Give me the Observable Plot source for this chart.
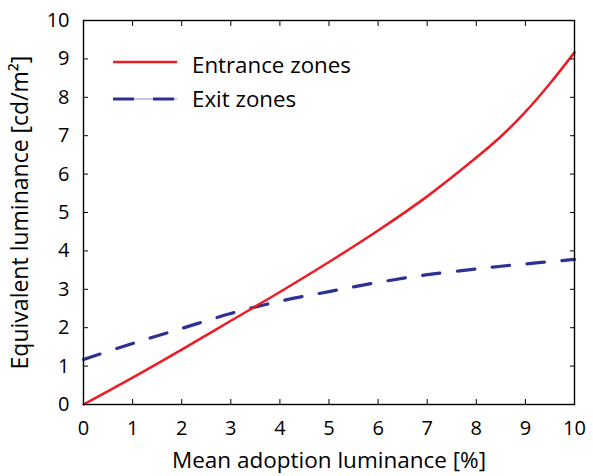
<!DOCTYPE html>
<html><head><meta charset="utf-8">
<script src="https://cdn.jsdelivr.net/npm/d3@7"></script>
<script src="https://cdn.jsdelivr.net/npm/@observablehq/plot@0.6"></script>
<style>
body{margin:0;background:#fff;}
#chart{position:relative;width:593px;height:476px;font-family:"Open Sans",sans-serif;color:#000;}
.leg-text{position:absolute;font-size:22.3px;line-height:1;white-space:nowrap;}
.leg-swatch{position:absolute;display:block;}
</style></head><body><div id="chart"></div>
<script>
const adoption = [0, 1, 2, 3, 4, 5, 6, 7, 8, 8.5, 9, 9.5, 10];
const entrance = [0, 0.70, 1.43, 2.18, 2.93, 3.71, 4.53, 5.42, 6.43, 6.98, 7.62, 8.36, 9.17];
const exitZ = [1.17, 1.59, 1.98, 2.37, 2.69, 2.94, 3.18, 3.38, 3.53, 3.60, 3.66, 3.72, 3.78];
const xTicks = [0, 1, 2, 3, 4, 5, 6, 7, 8, 9, 10];
const yTicks = [0, 1, 2, 3, 4, 5, 6, 7, 8, 9, 10];
const seriesNames = ["Entrance zones", "Exit zones"];
const seriesColors = ["#ed1c24", "#2e3192"];

const entranceData = adoption.map((x, i) => ({x, y: entrance[i]}));
const exitData = adoption.map((x, i) => ({x, y: exitZ[i]}));

const plot = Plot.plot({
  width: 593, height: 476,
  marginLeft: 83, marginRight: 19, marginTop: 20, marginBottom: 72,
  style: {fontFamily: '"Open Sans", sans-serif', fontSize: "20px", color: "#000", background: "#fff", overflow: "visible"},
  x: {domain: [0, 10]},
  y: {domain: [0, 10]},
  marks: [
    Plot.line(exitData, {x: "x", y: "y", stroke: seriesColors[1], strokeWidth: 3.2, strokeDasharray: "17.5,17.5", curve: "catmull-rom"}),
    Plot.line(entranceData, {x: "x", y: "y", stroke: seriesColors[0], strokeWidth: 2.5, curve: "catmull-rom"}),
    Plot.axisX(xTicks, {anchor: "bottom", tickSize: -5, tickPadding: 21, fontSize: 20, label: null}),
    Plot.axisX({anchor: "bottom", tickSize: 0, fill: "#000", fontSize: 22.5, ticks: [],
      label: "Mean adoption luminance [%]", labelAnchor: "center", labelOffset: 63, labelArrow: "none"}),
    Plot.axisY(yTicks, {anchor: "left", tickSize: -5, tickPadding: 19, fontSize: 20, label: null}),
    Plot.axisY({anchor: "left", tickSize: 0, fontSize: 23, ticks: [],
      label: "Equivalent luminance [cd/m²]", labelAnchor: "center", labelOffset: 72, labelArrow: "none"}),
    Plot.axisX(xTicks, {anchor: "top", tickSize: -5, fill: "none", label: null}),
    Plot.axisY(yTicks, {anchor: "right", tickSize: -5, fill: "none", label: null}),
    Plot.frame({stroke: "#000", strokeWidth: 1.4})
  ]
});
const chart = document.getElementById("chart");
chart.appendChild(plot);

// legend
const legendLineY = [62, 99];
const legendTextTop = [54, 88];
seriesNames.forEach((name, i) => {
  const sw = document.createElementNS("http://www.w3.org/2000/svg", "svg");
  sw.setAttribute("class", "leg-swatch");
  sw.setAttribute("width", "64");
  sw.setAttribute("height", "10");
  sw.style.left = "113px";
  sw.style.top = (legendLineY[i] - 5) + "px";
  const dash = i === 1 ? 'stroke-dasharray="21,19"' : "";
  const thin = i === 1 ? `<line x1="0" y1="5" x2="64" y2="5" stroke="${seriesColors[1]}" stroke-width="1" opacity="0.55"/>` : "";
  sw.innerHTML = `${thin}<line x1="0" y1="5" x2="64" y2="5" stroke="${seriesColors[i]}" stroke-width="${i ? 3.2 : 2.5}" ${dash}/>`;
  chart.appendChild(sw);
  const t = document.createElement("div");
  t.className = "leg-text";
  t.style.left = "192px";
  t.style.top = legendTextTop[i] + "px";
  t.textContent = name;
  chart.appendChild(t);
});
</script>
</body></html>
